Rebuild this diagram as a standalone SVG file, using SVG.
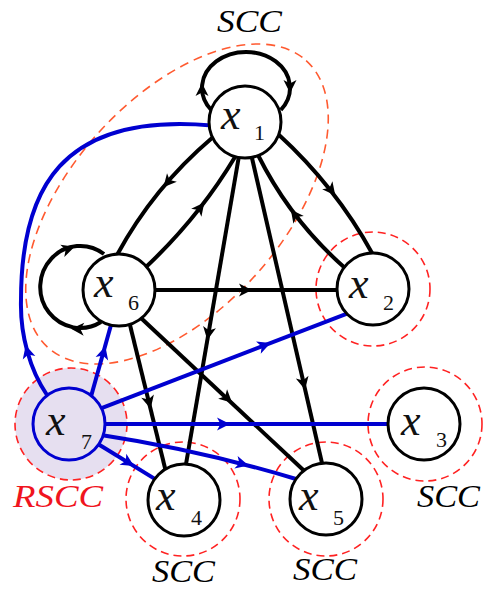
<svg xmlns="http://www.w3.org/2000/svg" xmlns:xlink="http://www.w3.org/1999/xlink" width="487" height="589" viewBox="0 0 487 589">
<style>
.reg{fill:none;stroke:#f22;stroke-width:1.6;stroke-dasharray:8 5}
.ell{fill:none;stroke:#ff5a30;stroke-width:1.6;stroke-dasharray:9 6}
.ek{fill:none;stroke:#000;stroke-width:4}
.eb{fill:none;stroke:#0000d0;stroke-width:4}
.ak{fill:#000}
.ab{fill:#0000d0}
.node{fill:#fff;stroke:#000;stroke-width:3}
.nx{font-family:"Liberation Serif",serif;font-style:italic;font-size:44px;fill:#111}
.ns{font-family:"Liberation Serif",serif;font-size:22px;fill:#111}
.lab{font-family:"Liberation Serif",serif;font-style:italic;font-size:32px;fill:#000}
</style>
<defs>
<path id="ah" d="M7,0 L-6,-6.5 L-2.5,0 L-6,6.5 Z"/>
</defs>
<g id="regions">
<circle cx="71" cy="424" r="56" fill="#e6dff0" stroke="#f22" stroke-width="1.6" stroke-dasharray="8 5"/>
<ellipse class="ell" cx="177" cy="204" rx="193" ry="106" transform="rotate(-48 177 204)"/>
<circle class="reg" cx="373" cy="289" r="57"/>
<circle class="reg" cx="425" cy="424" r="57"/>
<circle class="reg" cx="183" cy="499" r="57"/>
<circle class="reg" cx="326" cy="499" r="57"/>
</g>
<g id="connectors">
<path class="ek" d="M211.2,110 A44,36 0 1 1 280.8,110"/>
<path class="ek" d="M101,322 A40,41 0 1 1 104,254"/>
<path class="ek" d="M212,138 Q153.5,187.7 117,255"/>
<path class="ek" d="M146,267 Q199,217 235,157"/>
<path class="ek" d="M278,134 Q335.5,186.6 372,253"/>
<path class="ek" d="M345,268 Q290.4,220 258,155"/>
<path class="ek" d="M240,150 L185,470"/>
<path class="ek" d="M249.3,146.3 L323.3,468.8"/>
<path class="ek" d="M140,290 L350,290"/>
<path class="ek" d="M128.1,317.2 L166.9,475.8"/>
<path class="ek" d="M137.2,314.5 L307.3,473.8"/>
<path class="eb" d="M47,395 C30,370 20,335 21,300 C21,190 60,112 212,125.5"/>
<path class="eb" d="M90.4,398.8 L112.6,319.2"/>
<path class="eb" d="M96.4,410.2 L351.6,311.8"/>
<path class="eb" d="M90,424 L410,424"/>
<path class="eb" d="M98,434.5 Q200,450 296,479"/>
<path class="eb" d="M98,444 L160.1,482.1"/>
<use xlink:href="#ah" class="ak" transform="translate(202,90) rotate(-90)"/>
<use xlink:href="#ah" class="ak" transform="translate(290,86) rotate(90)"/>
<use xlink:href="#ah" class="ak" transform="translate(68,249) rotate(-18)"/>
<use xlink:href="#ah" class="ak" transform="translate(78,329) rotate(183)"/>
<use xlink:href="#ah" class="ak" transform="translate(168,182) rotate(131)"/>
<use xlink:href="#ah" class="ak" transform="translate(200,208) rotate(-52)"/>
<use xlink:href="#ah" class="ak" transform="translate(331,190) rotate(52)"/>
<use xlink:href="#ah" class="ak" transform="translate(295,215) rotate(-127)"/>
<use xlink:href="#ah" class="ak" transform="translate(208.5,333) rotate(99.8)"/>
<use xlink:href="#ah" class="ak" transform="translate(303.5,383) rotate(77.1)"/>
<use xlink:href="#ah" class="ak" transform="translate(245,290) rotate(0)"/>
<use xlink:href="#ah" class="ak" transform="translate(149,402) rotate(76.2)"/>
<use xlink:href="#ah" class="ak" transform="translate(227,398) rotate(43.1)"/>
<use xlink:href="#ah" class="ab" transform="translate(27.5,352) rotate(-105)"/>
<use xlink:href="#ah" class="ab" transform="translate(103.5,353) rotate(-74.4)"/>
<use xlink:href="#ah" class="ab" transform="translate(264,345.5) rotate(-21.1)"/>
<use xlink:href="#ah" class="ab" transform="translate(223,424) rotate(0)"/>
<use xlink:href="#ah" class="ab" transform="translate(241.8,463.8) rotate(14.5)"/>
<use xlink:href="#ah" class="ab" transform="translate(128,462.4) rotate(31.5)"/>
</g>
<g id="x1"><circle class="node" cx="245" cy="122" r="36"/><text class="nx" x="221" y="129">x</text><text class="ns" x="254" y="140">1</text></g>
<g id="x2"><circle class="node" cx="373" cy="289" r="36"/><text class="nx" x="349" y="298">x</text><text class="ns" x="383" y="310">2</text></g>
<g id="x3"><circle class="node" cx="424" cy="424" r="36"/><text class="nx" x="401" y="435">x</text><text class="ns" x="436" y="447">3</text></g>
<g id="x4"><circle class="node" cx="184" cy="500" r="36"/><text class="nx" x="156" y="510">x</text><text class="ns" x="191" y="525">4</text></g>
<g id="x5"><circle class="node" cx="326" cy="499" r="36"/><text class="nx" x="299" y="510">x</text><text class="ns" x="333" y="525">5</text></g>
<g id="x6"><circle class="node" cx="119" cy="290" r="36"/><text class="nx" x="94" y="297">x</text><text class="ns" x="128" y="310">6</text></g>
<g id="x7"><circle cx="69" cy="424" r="36" fill="#e6dff0" stroke="#0000d0" stroke-width="3"/><text class="nx" x="46" y="435">x</text><text class="ns" x="81" y="449">7</text></g>
<g id="labels">
<text class="lab" x="217" y="32" textLength="65" lengthAdjust="spacingAndGlyphs">SCC</text>
<text class="lab" x="417" y="507" textLength="63" lengthAdjust="spacingAndGlyphs">SCC</text>
<text class="lab" x="293" y="580" textLength="64" lengthAdjust="spacingAndGlyphs">SCC</text>
<text class="lab" x="152" y="582" textLength="63" lengthAdjust="spacingAndGlyphs">SCC</text>
<text class="lab" x="13" y="507" textLength="90" lengthAdjust="spacingAndGlyphs" style="fill:#f0141e">RSCC</text>
</g>
</svg>
